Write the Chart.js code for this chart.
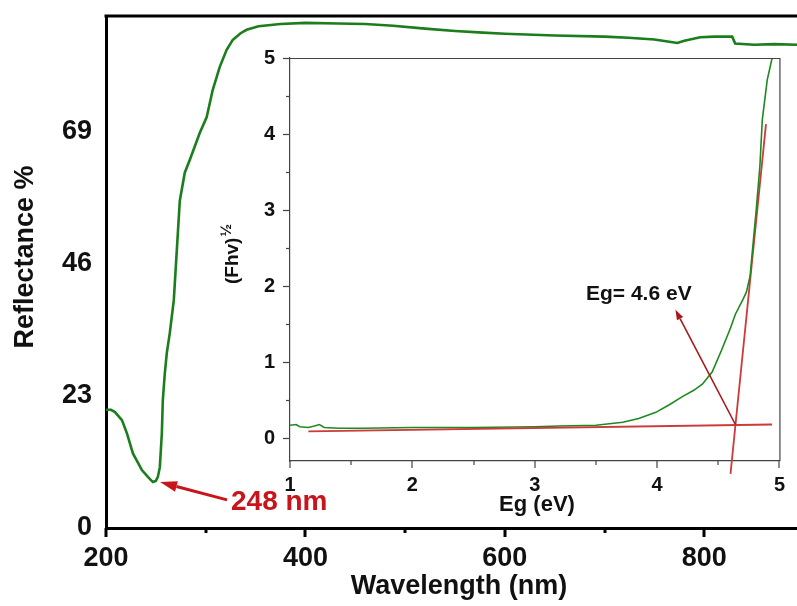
<!DOCTYPE html>
<html>
<head>
<meta charset="utf-8">
<script src="https://cdn.jsdelivr.net/npm/chart.js@4.4.0/dist/chart.umd.min.js"></script>
<style>
  body { margin: 0; background: #fff; }
  #wrap { position: relative; width: 797px; height: 606px; }
  canvas { position: absolute; left: 0; top: 0; }
  #inset { pointer-events: none; }
</style>
</head>
<body>
<div id="wrap">
  <canvas id="mainChart" width="797" height="606"></canvas>
  <canvas id="inset" width="797" height="606"></canvas>
</div>
<script>
// main reflectance curve
const wavelength = [200, 205, 209, 216, 221, 227, 236, 242, 247, 250, 252, 254, 256, 257, 259, 261, 264, 268, 274, 279, 284, 294, 301, 307, 314, 321, 327, 335, 341, 353, 375, 400, 433, 460, 488, 520, 550, 578, 600, 650, 700, 724, 750, 765, 773, 780, 796, 810, 828, 831, 850, 870, 893];
const reflectance = [20.6, 20.6, 20.2, 18.8, 16.5, 13.0, 10.1, 8.9, 8.0, 8.2, 8.9, 10.6, 16.5, 22.3, 27.0, 30.5, 34.0, 39.7, 57.0, 61.9, 64.1, 68.8, 71.6, 76.3, 80.3, 83.3, 85.0, 86.2, 86.8, 87.4, 87.8, 88.0, 87.9, 87.8, 87.5, 87.0, 86.6, 86.3, 86.1, 85.8, 85.6, 85.4, 85.1, 84.7, 84.5, 84.9, 85.5, 85.6, 85.6, 84.4, 84.2, 84.3, 84.2];
const reflTicks = [0, 23, 46, 69];
const waveTicks = [200, 400, 600, 800];
const waveMinor = [300, 500, 700];

// inset: Kubelka-Munk plot
const egX = [1.00, 1.05, 1.08, 1.15, 1.20, 1.24, 1.28, 1.40, 1.60, 2.00, 2.50, 3.00, 3.20, 3.50, 3.72, 3.85, 3.99, 4.10, 4.21, 4.30, 4.37, 4.45, 4.53, 4.60, 4.64, 4.70, 4.73, 4.76, 4.78, 4.81, 4.84, 4.86, 4.90, 4.94];
const fhv = [0.17, 0.18, 0.15, 0.14, 0.16, 0.18, 0.14, 0.13, 0.13, 0.14, 0.14, 0.15, 0.16, 0.17, 0.21, 0.26, 0.34, 0.44, 0.55, 0.63, 0.71, 0.87, 1.17, 1.45, 1.63, 1.82, 1.92, 2.13, 2.48, 3.00, 3.57, 4.19, 4.71, 5.00];
const baseX = [1.15, 4.94];
const baseY = [0.09, 0.18];
const tangentX = [4.60, 4.89];
const tangentY = [-0.47, 4.13];
const egArrowX = [4.64, 4.15];
const egArrowY = [0.18, 1.69];
const egTicks = [1, 2, 3, 4, 5];
const egMinor = [1.5, 2.5, 3.5, 4.5];
const fhvTicks = [0, 1, 2, 3, 4, 5];
const fhvMinor = [0.5, 1.5, 2.5, 3.5, 4.5];

const FONT = "'Liberation Sans', Arial, sans-serif";
const RED = '#c8151b';

const pts = (xs, ys) => xs.map((x, i) => ({ x: x, y: ys[i] }));

function arrow(ctx, x1, y1, x2, y2, headLen, headW, lw, color) {
  const ang = Math.atan2(y2 - y1, x2 - x1);
  const bx = x2 - headLen * Math.cos(ang);
  const by = y2 - headLen * Math.sin(ang);
  ctx.save();
  ctx.strokeStyle = color;
  ctx.fillStyle = color;
  ctx.lineWidth = lw;
  ctx.beginPath();
  ctx.moveTo(x1, y1);
  ctx.lineTo(bx, by);
  ctx.stroke();
  ctx.beginPath();
  ctx.moveTo(x2, y2);
  ctx.lineTo(bx + headW / 2 * Math.sin(ang), by - headW / 2 * Math.cos(ang));
  ctx.lineTo(bx - headW / 2 * Math.sin(ang), by + headW / 2 * Math.cos(ang));
  ctx.closePath();
  ctx.fill();
  ctx.restore();
}

function xTicks(ctx, scale, values, len, lw, color) {
  ctx.save();
  ctx.strokeStyle = color;
  ctx.lineWidth = lw;
  values.forEach(v => {
    const px = Math.round(scale.getPixelForValue(v));
    ctx.beginPath();
    ctx.moveTo(px, scale.top);
    ctx.lineTo(px, scale.top + len);
    ctx.stroke();
  });
  ctx.restore();
}

function yTicks(ctx, scale, values, len, lw, color) {
  ctx.save();
  ctx.strokeStyle = color;
  ctx.lineWidth = lw;
  values.forEach(v => {
    const py = Math.round(scale.getPixelForValue(v)) + 0.5;
    ctx.beginPath();
    ctx.moveTo(scale.right, py);
    ctx.lineTo(scale.right - len, py);
    ctx.stroke();
  });
  ctx.restore();
}

const mainDecor = {
  id: 'mainDecor',
  afterDraw(chart) {
    const ctx = chart.ctx;
    const a = chart.chartArea;
    const x = chart.scales.x, y = chart.scales.y;
    // top frame
    ctx.save();
    ctx.strokeStyle = '#000';
    ctx.lineWidth = 3;
    ctx.beginPath();
    ctx.moveTo(a.left - 1.5, a.top);
    ctx.lineTo(a.right, a.top);
    ctx.stroke();
    ctx.restore();
    xTicks(ctx, x, waveTicks, 9, 3, '#000');
    xTicks(ctx, x, waveMinor, 5, 3, '#000');

    ctx.save();
    ctx.fillStyle = '#111';
    ctx.font = 'bold 27px ' + FONT;
    ctx.textAlign = 'center';
    ctx.textBaseline = 'middle';
    ctx.fillText('Wavelength (nm)', 459, 587);
    ctx.translate(26, 257);
    ctx.rotate(-Math.PI / 2);
    ctx.fillText('Reflectance %', 0, 0);
    ctx.restore();

    // minimum marker
    arrow(ctx, x.getPixelForValue(321.4), y.getPixelForValue(4.9),
      x.getPixelForValue(254.2), y.getPixelForValue(8.0), 17, 11, 3, RED);
    ctx.save();
    ctx.fillStyle = RED;
    ctx.font = 'bold 28px ' + FONT;
    ctx.textAlign = 'left';
    ctx.textBaseline = 'alphabetic';
    ctx.fillText('248 nm', 231, 510);
    ctx.restore();
  }
};

new Chart(document.getElementById('mainChart'), {
  type: 'scatter',
  data: {
    datasets: [{
      data: pts(wavelength, reflectance),
      showLine: true,
      borderColor: '#1b7d1b',
      borderWidth: 2.6,
      pointRadius: 0,
      tension: 0
    }]
  },
  options: {
    responsive: false,
    animation: false,
    devicePixelRatio: 1,
    layout: { padding: { top: 16, right: 0, left: 0, bottom: 0 } },
    plugins: { legend: { display: false }, tooltip: { enabled: false } },
    scales: {
      x: {
        type: 'linear',
        min: 200,
        max: 893,
        afterBuildTicks: s => { s.ticks = waveTicks.map(v => ({ value: v })); },
        afterFit: s => { s.height = 78; s.paddingLeft = 0; s.paddingRight = 0; },
        grid: { display: false, drawTicks: false },
        border: { color: '#000', width: 3 },
        ticks: { padding: 14, color: '#111', autoSkip: false, maxRotation: 0, font: { family: FONT, size: 27, weight: 'bold' } }
      },
      y: {
        type: 'linear',
        min: 0,
        max: 89.2,
        afterBuildTicks: s => { s.ticks = reflTicks.map(v => ({ value: v })); },
        afterFit: s => { s.width = 106; s.paddingTop = 0; s.paddingBottom = 0; },
        grid: { display: false, drawTicks: false },
        border: { color: '#000', width: 3 },
        ticks: { padding: 14, color: '#111', autoSkip: false, font: { family: FONT, size: 27, weight: 'bold' } }
      }
    }
  },
  plugins: [mainDecor]
});

const insetDecor = {
  id: 'insetDecor',
  afterDraw(chart) {
    const ctx = chart.ctx;
    const a = chart.chartArea;
    const x = chart.scales.x, y = chart.scales.y;
    ctx.save();
    ctx.strokeStyle = '#444';
    ctx.lineWidth = 1.2;
    ctx.beginPath();
    ctx.moveTo(a.left, a.top + 0.5);
    ctx.lineTo(a.right + 0.5, a.top + 0.5);
    ctx.lineTo(a.right + 0.5, a.bottom);
    ctx.stroke();
    ctx.restore();
    xTicks(ctx, x, egTicks, 7, 1.2, '#444');
    xTicks(ctx, x, egMinor, 4, 1.2, '#444');
    yTicks(ctx, y, fhvTicks, 7, 1.2, '#444');
    yTicks(ctx, y, fhvMinor, 4, 1.2, '#444');

    ctx.save();
    ctx.fillStyle = '#111';
    ctx.font = 'bold 22px ' + FONT;
    ctx.textAlign = 'center';
    ctx.textBaseline = 'middle';
    ctx.fillText('Eg (eV)', 537, 505);
    ctx.font = 'bold 21px ' + FONT;
    ctx.textAlign = 'left';
    ctx.textBaseline = 'alphabetic';
    ctx.fillText('Eg= 4.6 eV', 586, 300);
    // rotated y title with superscript half
    ctx.translate(238, 284);
    ctx.rotate(-Math.PI / 2);
    ctx.font = 'bold 19px ' + FONT;
    const w = ctx.measureText('(Fhv)').width;
    ctx.fillText('(Fhv)', 0, 0);
    ctx.font = 'bold 15px ' + FONT;
    ctx.fillText('\u00bd', w + 1, -7);
    ctx.restore();

    arrow(ctx, x.getPixelForValue(egArrowX[0]), y.getPixelForValue(egArrowY[0]),
      x.getPixelForValue(egArrowX[1]), y.getPixelForValue(egArrowY[1]), 10, 7, 1.6, '#a81818');
  }
};

new Chart(document.getElementById('inset'), {
  type: 'scatter',
  data: {
    datasets: [
      { data: pts(baseX, baseY), showLine: true, borderColor: '#cc3a3a', borderWidth: 1.8, pointRadius: 0 },
      { data: pts(egX, fhv), showLine: true, borderColor: '#1e8a1e', borderWidth: 1.6, pointRadius: 0, tension: 0 },
      { data: pts(tangentX, tangentY), showLine: true, borderColor: '#cc3a3a', borderWidth: 1.8, pointRadius: 0, clip: false }
    ]
  },
  options: {
    responsive: false,
    animation: false,
    devicePixelRatio: 1,
    layout: { padding: { top: 58, right: 12, left: 0, bottom: 0 } },
    plugins: { legend: { display: false }, tooltip: { enabled: false } },
    scales: {
      x: {
        type: 'linear',
        min: 1,
        max: 5,
        afterBuildTicks: s => { s.ticks = egTicks.map(v => ({ value: v })); },
        afterFit: s => { s.height = 145; },
        grid: { display: false, drawTicks: false },
        border: { color: '#444', width: 1.2 },
        ticks: { padding: 12, color: '#111', autoSkip: false, maxRotation: 0, font: { family: FONT, size: 20, weight: 'bold' } }
      },
      y: {
        type: 'linear',
        min: -0.3,
        max: 5,
        afterBuildTicks: s => { s.ticks = fhvTicks.map(v => ({ value: v })); },
        afterFit: s => { s.width = 290; },
        grid: { display: false, drawTicks: false },
        border: { color: '#444', width: 1.2 },
        ticks: { padding: 15, color: '#111', autoSkip: false, font: { family: FONT, size: 20, weight: 'bold' } }
      }
    }
  },
  plugins: [insetDecor]
});
</script>
</body>
</html>
